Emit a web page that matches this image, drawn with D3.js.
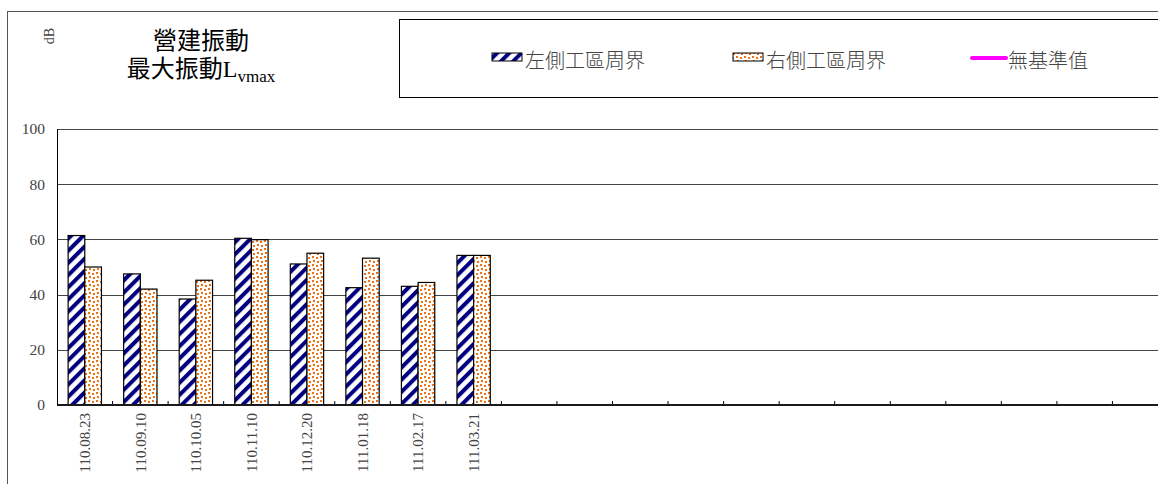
<!DOCTYPE html>
<html><head><meta charset="utf-8">
<script src="https://cdn.jsdelivr.net/npm/d3@7"></script>
<style>body{margin:0;background:#fff;overflow:hidden}</style>
</head><body>
<svg id="c" width="1158" height="484"></svg>
<script>
// ---- data ----
const categories = ["110.08.23","110.09.10","110.10.05","110.11.10","110.12.20","111.01.18","111.02.17","111.03.21"];
const emptySlots = 12;
const leftSite  = [61.4, 47.5, 38.4, 60.4, 51.1, 42.5, 43.0, 54.2];
const rightSite = [50.0, 42.0, 45.2, 59.9, 55.0, 53.2, 44.4, 54.2];
const seriesNames = ["左側工區周界", "右側工區周界", "無基準值"];
const yTicks = [0, 20, 40, 60, 80, 100];
const titleLine1 = "營建振動";
const titleLine2 = "最大振動L";
const titleSub = "vmax";
const yUnit = "dB";

// ---- layout ----
const svg = d3.select("#c");
const serif = "'Liberation Serif','Noto Sans CJK TC',serif";
const cjk = "'Noto Sans CJK TC','Noto Sans',sans-serif";
const plot = {left: 57, top: 129, bottom: 405};
const slotW = 55.55;
const slots = d3.range(categories.length + emptySlots);
const labels = slots.map(i => i < categories.length ? categories[i] : "");

const x = d3.scaleBand().domain(slots).range([plot.left, plot.left + slotW * slots.length]).padding(0);
const y = d3.scaleLinear().domain([0, 100]).range([plot.bottom, plot.top]);
const inner = d3.scaleBand().domain([0, 1]).range([0.2 * x.bandwidth(), 0.8 * x.bandwidth()]).padding(0);

// patterns
const defs = svg.append("defs");
const pStripe = defs.append("pattern").attr("id", "stripe").attr("patternUnits", "userSpaceOnUse")
  .attr("width", 8.6).attr("height", 8.6).attr("patternTransform", "rotate(45)");
pStripe.append("rect").attr("width", 8.6).attr("height", 8.6).attr("fill", "#fff");
pStripe.append("rect").attr("width", 4).attr("height", 8.6).attr("fill", "#000080");

const pDots = defs.append("pattern").attr("id", "dots").attr("patternUnits", "userSpaceOnUse")
  .attr("width", 8).attr("height", 8);
pDots.append("rect").attr("width", 8).attr("height", 8).attr("fill", "#fff");
[[0, 0], [4, 1], [1, 4], [5, 5]].forEach(([dx, dy]) =>
  pDots.append("rect").attr("x", dx).attr("y", dy).attr("width", 2).attr("height", 2).attr("fill", "#f07010"));

// outer chart border
svg.append("rect").attr("x", 7.5).attr("y", 11.5).attr("width", 1200).attr("height", 600)
  .attr("fill", "none").attr("stroke", "#555").attr("stroke-width", 1);

// gridlines
svg.append("g").selectAll("line").data(yTicks.filter(d => d > 0)).join("line")
  .attr("x1", plot.left).attr("x2", 1200)
  .attr("y1", d => Math.round(y(d)) + 0.5).attr("y2", d => Math.round(y(d)) + 0.5)
  .attr("stroke", "#444").attr("stroke-width", 1);

// y tick labels
svg.append("g").selectAll("text").data(yTicks).join("text")
  .attr("x", 45).attr("y", d => y(d)).attr("dy", "0.35em")
  .attr("text-anchor", "end").attr("font-family", serif).attr("font-size", 15.5).attr("fill", "#444")
  .text(d => d);

// bars
const series = [{vals: leftSite, fill: "url(#stripe)"}, {vals: rightSite, fill: "url(#dots)"}];
series.forEach((s, si) => {
  svg.append("g").selectAll("rect").data(s.vals).join("rect")
    .attr("x", (d, i) => x(i) + inner(si))
    .attr("width", inner.bandwidth())
    .attr("y", d => y(d))
    .attr("height", d => y(0) - y(d))
    .attr("fill", s.fill).attr("stroke", "#000").attr("stroke-width", 1.2);
});

// left axis line
svg.append("line").attr("x1", plot.left + 0.5).attr("x2", plot.left + 0.5)
  .attr("y1", plot.top).attr("y2", plot.bottom).attr("stroke", "#000");

// x axis
const xAxis = d3.axisBottom(x).tickSize(0).tickFormat(i => labels[i]);
const gx = svg.append("g").attr("transform", `translate(0,${plot.bottom})`).call(xAxis);
gx.select(".domain").remove();
gx.selectAll("text").attr("font-family", serif).attr("font-size", 15).attr("fill", "#444")
  .attr("transform", "rotate(-90)").attr("text-anchor", "end")
  .attr("x", -8).attr("y", 0).attr("dy", "0.35em");
// category boundary ticks (inside)
svg.append("g").selectAll("line").data(slots).join("line")
  .attr("x1", i => x(i) + x.bandwidth()).attr("x2", i => x(i) + x.bandwidth())
  .attr("y1", plot.bottom - 4).attr("y2", plot.bottom)
  .attr("stroke", "#000").attr("stroke-width", 1);
svg.append("line").attr("x1", plot.left).attr("x2", 1200)
  .attr("y1", plot.bottom).attr("y2", plot.bottom).attr("stroke", "#1a1a1a").attr("stroke-width", 2);

// unit label
svg.append("text").attr("transform", "translate(49,36) rotate(-90)")
  .attr("text-anchor", "middle").attr("dy", "0.35em")
  .attr("font-family", serif).attr("font-size", 14).attr("fill", "#444").text(yUnit);

// title
svg.append("text").attr("x", 201).attr("y", 49).attr("text-anchor", "middle")
  .attr("font-family", cjk).attr("font-size", 24).attr("fill", "#000").text(titleLine1);
const t2 = svg.append("text").attr("x", 201).attr("y", 77).attr("text-anchor", "middle")
  .attr("font-family", serif).attr("font-size", 24).attr("fill", "#000");
t2.append("tspan").text(titleLine2);
t2.append("tspan").attr("font-size", 17).attr("dy", 5).text(titleSub);

// legend
svg.append("rect").attr("x", 399.5).attr("y", 19.5).attr("width", 800).attr("height", 78)
  .attr("fill", "#fff").attr("stroke", "#000").attr("stroke-width", 1);
const legX = [492, 733, 972];
const leg = svg.append("g");
leg.append("rect").attr("x", legX[0]).attr("y", 53).attr("width", 30).attr("height", 8)
  .attr("fill", "url(#stripe)").attr("stroke", "#000").attr("stroke-width", 1);
leg.append("rect").attr("x", legX[1]).attr("y", 53).attr("width", 30).attr("height", 8)
  .attr("fill", "url(#dots)").attr("stroke", "#000").attr("stroke-width", 1);
leg.append("line").attr("x1", legX[2]).attr("x2", legX[2] + 34).attr("y1", 58).attr("y2", 58)
  .attr("stroke", "#ff00ff").attr("stroke-width", 4).attr("stroke-linecap", "round");
seriesNames.forEach((n, i) => {
  leg.append("text").attr("x", legX[i] + (i < 2 ? 33 : 36)).attr("y", 67.5)
    .attr("font-family", cjk).attr("font-size", 20).attr("font-weight", 300).attr("fill", "#444").text(n);
});
</script>
</body></html>
